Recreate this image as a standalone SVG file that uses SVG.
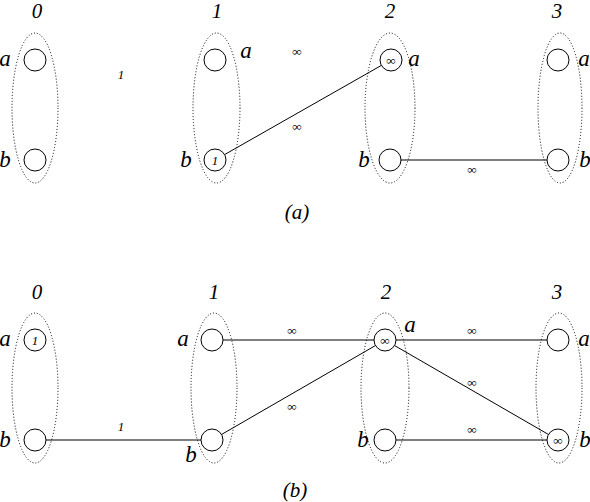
<svg xmlns="http://www.w3.org/2000/svg" width="590" height="502" viewBox="0 0 590 502">
<style>
.grp{fill:none;stroke:#000;stroke-width:1;stroke-dasharray:1,2}
.nd{fill:#fff;stroke:#000;stroke-width:1}
.e{stroke:#000;stroke-width:1;fill:none}
text{font-family:'Liberation Serif',serif;font-style:italic;fill:#000;text-anchor:middle}
.big{font-size:21px}
.lt{font-size:23px}
.sm{font-size:13px}
.in{font-size:13px}
</style>
<rect width="590" height="502" fill="#fff"/>
<g id="connectors">
<line class="e" x1="224.6" y1="154.6" x2="381.4" y2="65.4"/>
<line class="e" x1="401" y1="160" x2="547" y2="160"/>
<line class="e" x1="46" y1="440" x2="201" y2="440"/>
<line class="e" x1="223" y1="340" x2="374" y2="340"/>
<line class="e" x1="221.5" y1="434.5" x2="375.5" y2="345.5"/>
<line class="e" x1="396" y1="340" x2="547" y2="340"/>
<line class="e" x1="394.5" y1="345.5" x2="548.5" y2="434.5"/>
<line class="e" x1="396" y1="440" x2="547" y2="440"/>
</g>
<g id="labels-a">
<text class="big" x="37" y="18">0</text>
<text class="big" x="217" y="18">1</text>
<text class="big" x="390" y="18">2</text>
<text class="big" x="557" y="18">3</text>
<text class="sm" x="121" y="79">1</text>
<text class="sm" x="297" y="56">∞</text>
<text class="sm" x="297" y="131">∞</text>
<text class="sm" x="472" y="174">∞</text>
<text class="big" x="297" y="219">(a)</text>
</g>
<g id="a0">
<ellipse class="grp" cx="35" cy="108" rx="23" ry="75"/>
<circle class="nd" cx="35" cy="60" r="11"/>
<circle class="nd" cx="35" cy="160" r="11"/>
<text class="lt" x="5" y="66">a</text>
<text class="lt" x="5" y="167">b</text>
</g>
<g id="a1">
<ellipse class="grp" cx="216.5" cy="108" rx="23.5" ry="75"/>
<circle class="nd" cx="215" cy="60" r="11"/>
<circle class="nd" cx="215" cy="160" r="11"/>
<text class="in" x="215" y="164.5">1</text>
<text class="lt" x="246" y="58">a</text>
<text class="lt" x="186" y="167">b</text>
</g>
<g id="a2">
<ellipse class="grp" cx="390" cy="108" rx="25" ry="75"/>
<circle class="nd" cx="391" cy="60" r="11"/>
<circle class="nd" cx="390" cy="160" r="11"/>
<text class="in" x="391" y="64.5">∞</text>
<text class="lt" x="414" y="66">a</text>
<text class="lt" x="364" y="167">b</text>
</g>
<g id="a3">
<ellipse class="grp" cx="560" cy="108" rx="22" ry="75"/>
<circle class="nd" cx="558" cy="60" r="11"/>
<circle class="nd" cx="558" cy="160" r="11"/>
<text class="lt" x="584" y="66">a</text>
<text class="lt" x="585" y="167">b</text>
</g>
<g id="labels-b">
<text class="big" x="37" y="299">0</text>
<text class="big" x="214" y="299">1</text>
<text class="big" x="386" y="299">2</text>
<text class="big" x="557" y="299">3</text>
<text class="sm" x="121" y="431">1</text>
<text class="sm" x="292" y="335">∞</text>
<text class="sm" x="292" y="411">∞</text>
<text class="sm" x="472" y="335">∞</text>
<text class="sm" x="472" y="387">∞</text>
<text class="sm" x="472" y="434">∞</text>
<text class="big" x="295" y="497">(b)</text>
</g>
<g id="b0">
<ellipse class="grp" cx="35" cy="388" rx="23" ry="75"/>
<circle class="nd" cx="35" cy="340" r="11"/>
<circle class="nd" cx="35" cy="440" r="11"/>
<text class="in" x="35" y="344.5">1</text>
<text class="lt" x="5" y="346">a</text>
<text class="lt" x="5" y="447">b</text>
</g>
<g id="b1">
<ellipse class="grp" cx="214" cy="388" rx="23" ry="75"/>
<circle class="nd" cx="212" cy="340" r="11"/>
<circle class="nd" cx="212" cy="440" r="11"/>
<text class="lt" x="183" y="346">a</text>
<text class="lt" x="191" y="462">b</text>
</g>
<g id="b2">
<ellipse class="grp" cx="385" cy="388" rx="24" ry="75"/>
<circle class="nd" cx="385" cy="340" r="11"/>
<circle class="nd" cx="385" cy="440" r="11"/>
<text class="in" x="385" y="344.5">∞</text>
<text class="lt" x="410" y="332">a</text>
<text class="lt" x="363" y="447">b</text>
</g>
<g id="b3">
<ellipse class="grp" cx="559" cy="388" rx="23" ry="75"/>
<circle class="nd" cx="558" cy="340" r="11"/>
<circle class="nd" cx="558" cy="440" r="11"/>
<text class="in" x="558" y="444.5">∞</text>
<text class="lt" x="584" y="346">a</text>
<text class="lt" x="585" y="447">b</text>
</g>
</svg>
